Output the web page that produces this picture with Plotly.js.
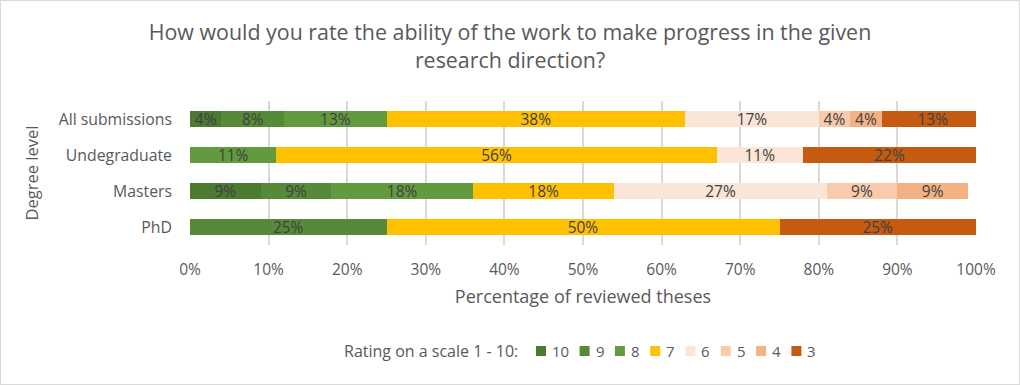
<!DOCTYPE html>
<html>
<head>
<meta charset="utf-8">
<script src="https://cdn.plot.ly/plotly-3.0.1.min.js"></script>
<style>
html,body{margin:0;padding:0;background:#fff;}
#chart{width:1020px;height:385px;box-sizing:border-box;border:1px solid #d9d9d9;}
</style>
</head>
<body>
<div id="chart"></div>
<script>
const categories = ["All submissions", "Undegraduate", "Masters", "PhD"];
const ratings = ["10", "9", "8", "7", "6", "5", "4", "3"];
// percentage of reviewed theses per rating, in category order
const r10 = [4, null, 9, null];
const r9  = [8, null, 9, 25];
const r8  = [13, 11, 18, null];
const r7  = [38, 56, 18, 50];
const r6  = [17, 11, 27, null];
const r5  = [4, null, 9, null];
const r4  = [4, null, 9, null];
const r3  = [13, 22, null, 25];
const xTicks = [0,10,20,30,40,50,60,70,80,90,100];
const xTickLabels = ["0%","10%","20%","30%","40%","50%","60%","70%","80%","90%","100%"];
const legendTitle = "Rating on a scale 1 - 10:";

const series = [r10, r9, r8, r7, r6, r5, r4, r3];
const colors = ["#4d7a31", "#568a38", "#629b3f", "#ffc000", "#fbe5d6", "#f8cbad", "#f4b183", "#c55a11"];
const FONT = "Open Sans, Liberation Sans, Arial, sans-serif";
const TXT = "#595959";

const W = 1018, H = 383;
const ML = 189, MR = 43, MT = 100, MB = 139;
const PW = W - ML - MR, PH = H - MT - MB;
const px2x = p => (p - 1 - ML) / PW;        // page px -> paper x
const px2y = p => (H - MB - (p - 1)) / PH;   // page px -> paper y

const traces = series.map((vals, i) => ({
  type: "bar",
  orientation: "h",
  name: ratings[i],
  y: categories,
  x: vals,
  marker: {color: colors[i], line: {width: 0}},
  text: vals.map(v => v == null ? "" : v + "%"),
  texttemplate: "%{text}",
  textposition: "inside",
  insidetextanchor: "middle",
  textangle: 0,
  constraintext: "none",
  insidetextfont: {family: FONT, size: 15.5, color: "#404040"},
  hoverinfo: "skip",
  showlegend: false
}));

// custom legend (Excel-style compact entries)
const shapes = [];
const annotations = [];
const legY = 351;
annotations.push({
  xref: "paper", yref: "paper", x: px2x(520), y: px2y(legY),
  xanchor: "right", yanchor: "middle", showarrow: false,
  text: legendTitle, font: {family: FONT, size: 16, color: TXT}
});
let lx = 536;
ratings.forEach((r, i) => {
  shapes.push({
    type: "rect", xref: "paper", yref: "paper",
    x0: px2x(lx), x1: px2x(lx + 10), y0: px2y(legY + 5), y1: px2y(legY - 5),
    fillcolor: colors[i], line: {width: 0}
  });
  annotations.push({
    xref: "paper", yref: "paper", x: px2x(lx + 14), y: px2y(legY),
    xanchor: "left", yanchor: "middle", showarrow: false,
    text: r, font: {family: FONT, size: 15, color: TXT}
  });
  lx += 27 + 8.3 * r.length;
});

const layout = {
  width: W,
  height: H,
  barmode: "stack",
  bargap: 0.58,
  paper_bgcolor: "#ffffff",
  plot_bgcolor: "#ffffff",
  font: {family: FONT, color: TXT, size: 14},
  margin: {l: ML, r: MR, t: MT, b: MB, pad: 0},
  title: {
    text: "How would you rate the ability of the work to make progress in the given<br>research direction?",
    font: {family: FONT, size: 21.4, color: TXT},
    x: 0.5, xanchor: "center", y: 0.898, yanchor: "middle"
  },
  xaxis: {
    range: [0, 100],
    tickvals: xTicks,
    ticktext: xTickLabels,
    showgrid: true,
    gridcolor: "#d9d9d9",
    gridwidth: 2,
    zeroline: false,
    showline: false,
    ticks: "",
    tickfont: {family: FONT, size: 15.5, color: TXT},
    ticklabelstandoff: 13,
    title: {text: "Percentage of reviewed theses", font: {family: FONT, size: 18, color: TXT}, standoff: 11},
    fixedrange: true
  },
  yaxis: {
    type: "category",
    autorange: "reversed",
    showgrid: false,
    zeroline: false,
    showline: false,
    ticks: "",
    tickfont: {family: FONT, size: 15.8, color: TXT},
    ticklabelstandoff: 17,
    title: {text: "Degree level", font: {family: FONT, size: 16.5, color: TXT}, standoff: 15},
    fixedrange: true
  },
  shapes: shapes,
  annotations: annotations,
  showlegend: false
};

Plotly.newPlot("chart", traces, layout, {displayModeBar: false, staticPlot: true});
</script>
</body>
</html>
